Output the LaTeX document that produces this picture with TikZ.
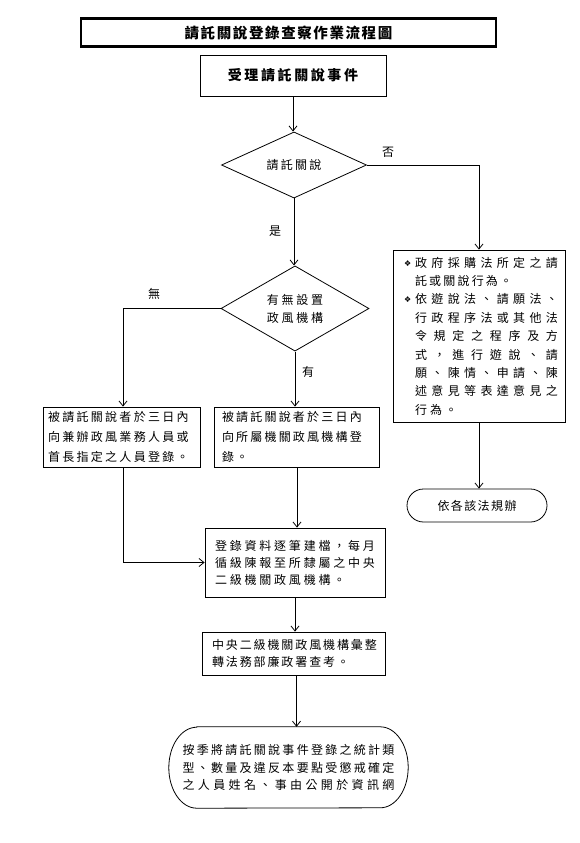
\documentclass[tikz,border=0pt]{standalone}
\usepackage{fontspec}
\setmainfont{Noto Sans CJK TC}
\newfontfamily\dejavu{DejaVu Sans}
\usetikzlibrary{arrows.meta,shapes.geometric,shapes.misc}
\makeatletter
\def\spaced#1#2{\begingroup\def\sp@gap{#1}\sp@first#2\@nil\endgroup}
\def\sp@first#1{#1\sp@next}
\def\sp@next#1{\ifx#1\@nil\else\kern\sp@gap\relax#1\expandafter\sp@next\fi}
\def\jl#1#2{\hbox to #1{\jl@first#2\@nil}}
\def\jl@first#1{#1\jl@next}
\def\jl@next#1{\ifx#1\@nil\else\hfil#1\expandafter\jl@next\fi}
\makeatother
\newcommand{\bul}{\makebox[11pt][l]{\raisebox{1pt}{\dejavu\fontsize{8}{8}\selectfont ❖}}}
\begin{document}
\begin{tikzpicture}[x=1pt,y=-1pt,
  box/.style={draw, line width=0.8pt, rectangle, align=left, inner ysep=0pt},
  arr/.style={-{Straight Barb[length=5pt,width=8pt]}, line width=0.8pt},
  lbl/.style={font=\fontsize{12}{12}\selectfont, inner sep=0pt},
  body/.style={font=\fontsize{12}{20}\selectfont}]
\useasboundingbox (0,0) rectangle (579,843);
\fill[white] (0,0) rectangle (579,843);

% title
\node[draw, line width=2.6pt, minimum width=415pt, minimum height=28pt, inner sep=0pt,
  font=\fontsize{14.5}{14.5}\selectfont\bfseries] (title) at (288.5,32.5)
  {\spaced{1.6pt}{請託關說登錄查察作業流程圖}};

% start
\node[draw, line width=0.8pt, minimum width=186pt, minimum height=41pt, inner sep=0pt,
  font=\fontsize{14}{14}\selectfont\bfseries] (start) at (293,75.5)
  {\spaced{2.6pt}{受理請託關說事件}};

% decision 1
\node[draw, diamond, line width=0.8pt, minimum width=145pt, minimum height=54pt, inner sep=0pt,
  font=\fontsize{12}{12}\selectfont] (d1) at (294,165)
  {\spaced{2.3pt}{請託關說}};

% decision 2
\node[draw, diamond, line width=0.8pt, minimum width=148pt, minimum height=77pt, inner sep=0pt,
  align=center, font=\fontsize{12}{18}\selectfont] (d2) at (295,308.5)
  {\spaced{2.7pt}{有無設置}\\\spaced{2.7pt}{政風機構}};

% right box
\node[box, text width=160pt, inner xsep=6pt, minimum height=172pt,
  font=\fontsize{12}{18.4}\selectfont] (rbox) at (479,336)
  {\hspace*{5pt}\bul\jl{143pt}{政府採購法所定之請}\\
   \hspace*{16pt}\spaced{2.2pt}{託或關說行為。}\\
   \hspace*{5pt}\bul\jl{143pt}{依遊說法、請願法、}\\
   \hspace*{16pt}\jl{143pt}{行政程序法或其他法}\\
   \hspace*{16pt}\jl{143pt}{令規定之程序及方}\\
   \hspace*{16pt}\jl{143pt}{式，進行遊說、請}\\
   \hspace*{16pt}\jl{143pt}{願、陳情、申請、陳}\\
   \hspace*{16pt}\jl{143pt}{述意見等表達意見之}\\
   \hspace*{16pt}\spaced{3pt}{行為。}};

% rounded end right
\node[draw, rounded rectangle, line width=0.8pt, minimum width=140pt, minimum height=33pt,
  inner sep=0pt, font=\fontsize{12}{12}\selectfont] (rr) at (477,505.5)
  {\spaced{1.4pt}{依各該法規辦}};

% left box
\node[box, body, text width=147pt, inner xsep=5pt, minimum height=60pt] (lbox) at (121.5,437)
  {\spaced{2.3pt}{被請託關說者於三日內}\\
   \spaced{2.3pt}{向兼辦政風業務人員或}\\
   \spaced{2.3pt}{首長指定之人員登錄。}};

% middle box
\node[box, body, text width=150pt, inner xsep=7.5pt, minimum height=60pt] (mbox) at (297,437)
  {\spaced{2.2pt}{被請託關說者於三日內}\\
   \spaced{2.2pt}{向所屬機關政風機構登}\\
   \spaced{2.2pt}{錄。}};

% box 4
\node[box, text width=160pt, inner xsep=10pt, minimum height=69pt,
  font=\fontsize{12}{17}\selectfont] (b4) at (295,562.5)
  {\spaced{2.8pt}{登錄資料逐筆建檔，每月}\\
   \spaced{2.8pt}{循級陳報至所隸屬之中央}\\
   \spaced{2.8pt}{二級機關政風機構。}};

% box 5
\node[box, text width=163pt, inner xsep=10pt, minimum height=43pt,
  font=\fontsize{12}{17}\selectfont] (b5) at (293.5,653.5)
  {\spaced{1.9pt}{中央二級機關政風機構彙整}\\
   \spaced{1.9pt}{轉法務部廉政署查考。}};

% box 6 (stadium)
\node[minimum width=239pt, minimum height=81pt, inner sep=0pt, align=left,
  font=\fontsize{12}{17.5}\selectfont] (b6) at (288.5,767.5)
  {\jl{212pt}{按季將請託關說事件登錄之統計類}\\
   \jl{212pt}{型、數量及違反本要點受懲戒確定}\\
   \jl{212pt}{之人員姓名、事由公開於資訊網}};
\draw[line width=0.8pt] ([xshift=28pt]b6.north west) -- ([xshift=-28pt]b6.north east)
  arc[start angle=90, end angle=-90, x radius=28pt, y radius=40.5pt]
  -- ([xshift=28pt]b6.south west)
  arc[start angle=270, end angle=90, x radius=28pt, y radius=40.5pt] -- cycle;

% labels
\node[lbl] (no) at (388,152) {否};
\node[lbl] (yes) at (275,231) {是};
\node[lbl] (none) at (154,294) {無};
\node[lbl] (have) at (308,372) {有};

% connectors
\draw[arr] (start.south) -- (start.south |- d1.north);
\draw[arr] (d1.east) -| (rbox.north);
\draw[arr] (d1.south) -- (d1.south |- d2.north);
\draw[arr] (d2.west) -| ([xshift=1.5pt]lbox.north);
\draw[arr] (d2.south) -- (d2.south |- mbox.north);
\draw[arr] ([xshift=1.5pt]lbox.south) |- (b4.west);
\draw[arr] (mbox.south) -- (mbox.south |- b4.north);
\draw[arr] (b4.south) -- (b4.south |- b5.north);
\draw[arr] ([xshift=3pt]b5.south) -- ([xshift=3pt]b5.south |- b6.north);
\draw[arr] (rbox.south) -- (rbox.south |- rr.north);
\end{tikzpicture}
\end{document}
